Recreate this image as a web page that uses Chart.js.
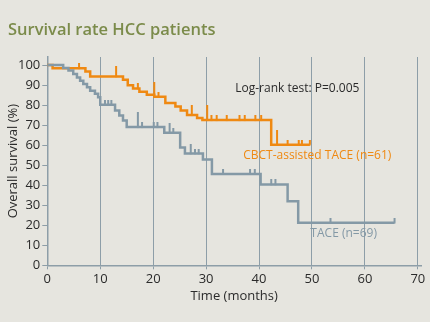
<!DOCTYPE html>
<html>
<head>
<meta charset="utf-8">
<script src="https://cdn.jsdelivr.net/npm/chart.js@4.4.1/dist/chart.umd.min.js"></script>
<style>
  html, body { margin: 0; padding: 0; background: #e6e5df; }
</style>
</head>
<body>
<canvas id="km" width="430" height="322"></canvas>
<script>
// survival curves (months, % surviving)
const cbctTimes = [0, 1.0, 7.2, 8.1, 14.3, 15.2, 16.2, 17.4, 18.8, 20.2, 22.3, 24.2, 25.2, 26.4, 28.3, 29.3, 42.3, 49.6];
const cbctSurv  = [100, 98.4, 96.8, 94.3, 92.6, 89.9, 88.3, 86.6, 85.1, 84.2, 81.0, 79.3, 77.3, 75.0, 73.5, 72.5, 60.2, 60.2];
const taceTimes = [0, 3.0, 4.0, 4.9, 5.6, 6.2, 6.8, 7.5, 8.1, 9.0, 9.6, 10.0, 12.8, 13.6, 14.3, 15.0, 22.1, 25.1, 26.0, 29.4, 31.1, 40.3, 45.4, 47.4, 65.6];
const taceSurv  = [100, 98.5, 97.2, 95.5, 93.8, 92.2, 90.5, 88.9, 87.2, 85.6, 83.9, 80.2, 77.3, 74.8, 72.3, 69.0, 66.2, 58.8, 55.8, 52.8, 45.6, 40.4, 32.0, 21.2, 21.2];

// censored patients (time, how many at that time)
const cbctCensorTimes = [6.0, 13.0, 17.1, 20.2, 21.0, 27.3, 30.2, 31.0, 32.0, 33.9, 36.3, 37.3, 39.3, 40.4, 43.4, 45.4, 47.5, 48.1, 49.6];
const cbctCensorCount = [1, 2, 1, 3, 1, 2, 3, 1, 1, 1, 1, 1, 1, 1, 3, 1, 1, 1, 1];
const taceCensorTimes = [10.9, 11.5, 12.1, 17.1, 17.9, 20.1, 20.8, 23.1, 23.8, 27.1, 27.9, 28.6, 33.2, 38.3, 39.2, 42.3, 43.1, 53.5, 65.6];
const taceCensorCount = [1, 1, 1, 3, 1, 1, 1, 2, 1, 2, 1, 1, 1, 1, 1, 1, 1, 1, 1];

const xTicks = [0, 10, 20, 30, 40, 50, 60, 70];
const yTicks = [0, 10, 20, 30, 40, 50, 60, 70, 80, 90, 100];

const orange = '#ef8912';
const slate = '#8499a6';
const gridCol = '#8d9ea8';
const textCol = '#2b2b2b';
const font = '"Open Sans", "Noto Sans", sans-serif';

function steps(times, surv) {
    return times.map((t, i) => ({ x: t, y: surv[i] }));
}

function survAt(times, surv, t) {
    let s = surv[0];
    for (let i = 0; i < times.length; i++) {
        if (times[i] <= t) s = surv[i];
    }
    return s;
}

function censorPoints(cTimes, times, surv) {
    return cTimes.map(t => ({ x: t, y: survAt(times, surv, t) }));
}

// upward tick used as censor mark
const markCache = {};
function tickMark(color, n) {
    const key = color + n;
    if (markCache[key]) return markCache[key];
    const h = 5 * n;
    const c = document.createElement('canvas');
    c.width = 4;
    c.height = h * 2;
    const g = c.getContext('2d');
    g.strokeStyle = color;
    g.lineWidth = 2;
    g.beginPath();
    g.moveTo(2, 0);
    g.lineTo(2, h + 0.5);
    g.stroke();
    markCache[key] = c;
    return c;
}

const background = {
    id: 'background',
    beforeDraw(chart) {
        const c = chart.ctx;
        c.save();
        c.fillStyle = '#e6e5df';
        c.fillRect(0, 0, chart.width, chart.height);
        c.restore();
    }
};

const labels = {
    id: 'labels',
    afterDatasetsDraw(chart) {
        const c = chart.ctx;
        const xs = chart.scales.x, ys = chart.scales.y;
        c.save();
        c.fillStyle = '#7b8b4a';
        c.font = '600 16.5px ' + font;
        c.textBaseline = 'alphabetic';
        c.textAlign = 'left';
        c.fillText('Survival rate HCC patients', 8, 35);

        c.font = '12px ' + font;
        c.textBaseline = 'middle';
        c.fillStyle = textCol;
        c.fillText('Log-rank test: P=0.005', xs.getPixelForValue(35.5), ys.getPixelForValue(88.4));
        c.fillStyle = orange;
        c.fillText('CBCT-assisted TACE (n=61)', xs.getPixelForValue(37.0), ys.getPixelForValue(54.9));
        c.fillStyle = slate;
        c.fillText('TACE (n=69)', xs.getPixelForValue(49.7), ys.getPixelForValue(15.9));
        c.restore();
    }
};

new Chart(document.getElementById('km'), {
    type: 'line',
    data: {
        datasets: [
            {
                data: steps(taceTimes, taceSurv),
                borderColor: slate,
                borderWidth: 2.5,
                stepped: 'before',
                pointRadius: 0,
                fill: false
            },
            {
                data: censorPoints(taceCensorTimes, taceTimes, taceSurv),
                showLine: false,
                pointRadius: 3,
                pointStyle: ctx => tickMark(slate, taceCensorCount[ctx.dataIndex] || 1)
            },
            {
                data: steps(cbctTimes, cbctSurv),
                borderColor: orange,
                borderWidth: 2.5,
                stepped: 'before',
                pointRadius: 0,
                fill: false
            },
            {
                data: censorPoints(cbctCensorTimes, cbctTimes, cbctSurv),
                showLine: false,
                pointRadius: 3,
                pointStyle: ctx => tickMark(orange, cbctCensorCount[ctx.dataIndex] || 1)
            }
        ]
    },
    options: {
        responsive: false,
        animation: false,
        layout: { padding: { left: 0, right: 9, top: 57, bottom: 0 } },
        plugins: {
            legend: { display: false },
            tooltip: { enabled: false }
        },
        scales: {
            x: {
                type: 'linear',
                min: 0,
                max: 70.6,
                afterBuildTicks: s => { s.ticks = xTicks.map(v => ({ value: v })); },
                afterFit: s => { s.height = 56.7; },
                border: { color: gridCol, width: 1.5 },
                grid: { color: gridCol, lineWidth: 1, tickLength: 4 },
                ticks: { color: textCol, font: { family: font, size: 13 }, padding: 2, maxRotation: 0 },
                title: {
                    display: true,
                    text: 'Time (months)',
                    color: textCol,
                    font: { family: font, size: 13 },
                    padding: { top: 0, bottom: 18 }
                }
            },
            y: {
                min: 0,
                max: 104,
                afterBuildTicks: s => { s.ticks = yTicks.map(v => ({ value: v })); },
                afterFit: s => { s.width = 47.3; },
                border: { color: gridCol, width: 1.5 },
                grid: { drawOnChartArea: false, color: gridCol, tickLength: 5 },
                ticks: { color: textCol, font: { family: font, size: 13 }, padding: 2 },
                title: {
                    display: true,
                    text: 'Overall survival (%)',
                    color: textCol,
                    font: { family: font, size: 13 },
                    padding: { top: 5, bottom: 0 }
                }
            }
        }
    },
    plugins: [background, labels]
});
</script>
</body>
</html>
